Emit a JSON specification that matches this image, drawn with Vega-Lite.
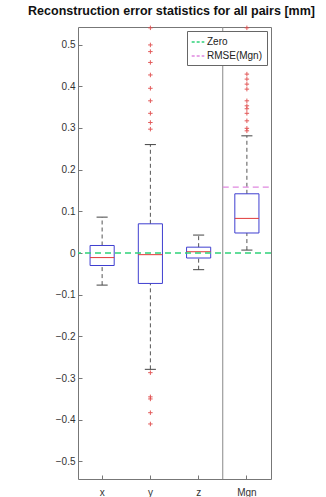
{
  "$schema": "https://vega.github.io/schema/vega-lite/v6.json",
  "autosize": "none",
  "width": 193,
  "height": 452,
  "padding": {"left": 78, "top": 27, "right": 55, "bottom": 18},
  "background": "white",
  "title": {
    "text": "Reconstruction error statistics for all pairs [mm]",
    "font": "Liberation Sans",
    "fontSize": 12.5,
    "fontWeight": "bold",
    "color": "#111",
    "anchor": "middle",
    "dx": -3,
    "offset": 6
  },
  "config": {
    "view": {"stroke": "#777", "strokeWidth": 1},
    "axis": {"labelFont": "Liberation Sans", "labelFontSize": 10, "labelColor": "#333", "tickColor": "#777", "domain": false, "grid": false, "title": null},
    "legend": {"labelFont": "Liberation Sans", "labelFontSize": 10, "labelColor": "#222"}
  },
  "datasets": {
    "stats": [
      {"cat": "x", "lower": -0.077, "q1": -0.030, "median": -0.011, "q3": 0.018, "upper": 0.086},
      {"cat": "y", "lower": -0.279, "q1": -0.073, "median": -0.004, "q3": 0.070, "upper": 0.260},
      {"cat": "z", "lower": -0.040, "q1": -0.012, "median": 0.003, "q3": 0.014, "upper": 0.043},
      {"cat": "Mgn", "lower": 0.007, "q1": 0.048, "median": 0.083, "q3": 0.142, "upper": 0.281}
    ],
    "lines": [
      {"name": "Zero", "value": 0},
      {"name": "RMSE(Mgn)", "value": 0.158}
    ],
    "outliers": [
      {"cat": "y", "value": 0.540},
      {"cat": "y", "value": 0.499},
      {"cat": "y", "value": 0.483},
      {"cat": "y", "value": 0.457},
      {"cat": "y", "value": 0.427},
      {"cat": "y", "value": 0.395},
      {"cat": "y", "value": 0.365},
      {"cat": "y", "value": 0.335},
      {"cat": "y", "value": 0.313},
      {"cat": "y", "value": 0.297},
      {"cat": "y", "value": -0.287},
      {"cat": "y", "value": -0.345},
      {"cat": "y", "value": -0.350},
      {"cat": "y", "value": -0.383},
      {"cat": "y", "value": -0.410},
      {"cat": "Mgn", "value": 0.540},
      {"cat": "Mgn", "value": 0.429},
      {"cat": "Mgn", "value": 0.417},
      {"cat": "Mgn", "value": 0.405},
      {"cat": "Mgn", "value": 0.393},
      {"cat": "Mgn", "value": 0.365},
      {"cat": "Mgn", "value": 0.353},
      {"cat": "Mgn", "value": 0.346},
      {"cat": "Mgn", "value": 0.335},
      {"cat": "Mgn", "value": 0.317},
      {"cat": "Mgn", "value": 0.299},
      {"cat": "Mgn", "value": 0.293}
    ]
  },
  "layer": [
    {
      "data": {"name": "stats"},
      "mark": {"type": "rule", "color": "#555", "strokeDash": [4, 3], "strokeWidth": 1},
      "encoding": {
        "x": {
          "field": "cat", "type": "nominal",
          "scale": {"domain": ["x", "y", "z", "Mgn"], "paddingInner": 0, "paddingOuter": 0},
          "axis": {"labelAngle": 0, "tickSize": -4, "labelPadding": 12, "orient": "bottom"}
        },
        "y": {
          "field": "q3", "type": "quantitative",
          "scale": {"domain": [-0.542, 0.542], "nice": false, "zero": false},
          "axis": {"values": [-0.5, -0.4, -0.3, -0.2, -0.1, 0, 0.1, 0.2, 0.3, 0.4, 0.5], "format": "~g", "tickSize": -4, "labelPadding": 7}
        },
        "y2": {"field": "upper"}
      }
    },
    {
      "data": {"name": "stats"},
      "mark": {"type": "rule", "color": "#555", "strokeDash": [4, 3], "strokeWidth": 1},
      "encoding": {
        "x": {"field": "cat", "type": "nominal"},
        "y": {"field": "lower", "type": "quantitative"},
        "y2": {"field": "q1"}
      }
    },
    {
      "data": {"name": "stats"},
      "mark": {"type": "rule", "color": "#444", "strokeWidth": 1},
      "encoding": {
        "x": {"field": "cat", "type": "nominal", "bandPosition": 0.385},
        "x2": {"field": "cat", "bandPosition": 0.615},
        "y": {"field": "upper", "type": "quantitative"}
      }
    },
    {
      "data": {"name": "stats"},
      "mark": {"type": "rule", "color": "#444", "strokeWidth": 1},
      "encoding": {
        "x": {"field": "cat", "type": "nominal", "bandPosition": 0.385},
        "x2": {"field": "cat", "bandPosition": 0.615},
        "y": {"field": "lower", "type": "quantitative"}
      }
    },
    {
      "data": {"name": "stats"},
      "mark": {"type": "bar", "width": {"band": 0.5}, "fill": "white", "fillOpacity": 0, "stroke": "#3f3fd0", "strokeWidth": 1},
      "encoding": {
        "x": {"field": "cat", "type": "nominal"},
        "y": {"field": "q1", "type": "quantitative"},
        "y2": {"field": "q3"}
      }
    },
    {
      "data": {"name": "stats"},
      "mark": {"type": "rule", "color": "#e03a3a", "strokeWidth": 1},
      "encoding": {
        "x": {"field": "cat", "type": "nominal", "bandPosition": 0.25},
        "x2": {"field": "cat", "bandPosition": 0.75},
        "y": {"field": "median", "type": "quantitative"}
      }
    },
    {
      "data": {"name": "outliers"},
      "mark": {"type": "point", "shape": "M-1,0H1M0,-1V1", "filled": false, "stroke": "#e04a4a", "strokeWidth": 1, "size": 20, "opacity": 0.9},
      "encoding": {
        "x": {"field": "cat", "type": "nominal"},
        "y": {"field": "value", "type": "quantitative"}
      }
    },
    {
      "data": {"values": [{"cat": "Mgn"}]},
      "mark": {"type": "rule", "color": "#888", "strokeWidth": 1},
      "encoding": {
        "x": {"field": "cat", "type": "nominal", "bandPosition": 0}
      }
    },
    {
      "data": {"name": "lines"},
      "transform": [{"filter": "datum.name === 'Zero'"}],
      "mark": {"type": "rule", "strokeDash": [6, 4], "strokeWidth": 1.3},
      "encoding": {
        "y": {"field": "value", "type": "quantitative"},
        "color": {
          "field": "name", "type": "nominal",
          "scale": {"domain": ["Zero", "RMSE(Mgn)"], "range": ["#2fd27a", "#e088e0"]},
          "legend": {
            "title": null, "orient": "top-right", "offset": 4,
            "symbolType": "stroke", "symbolDash": [3, 2], "symbolSize": 160, "symbolStrokeWidth": 1.3,
            "strokeColor": "#666", "fillColor": "white", "padding": 4, "rowPadding": 2, "labelOffset": 2
          }
        }
      }
    },
    {
      "data": {"name": "lines"},
      "transform": [{"filter": "datum.name === 'RMSE(Mgn)'"}],
      "mark": {"type": "rule", "strokeDash": [6, 4], "strokeWidth": 1.3},
      "encoding": {
        "x": {"datum": "Mgn", "bandPosition": 0},
        "x2": {"datum": "Mgn", "bandPosition": 1},
        "y": {"field": "value", "type": "quantitative"},
        "color": {"field": "name", "type": "nominal"}
      }
    }
  ]
}
